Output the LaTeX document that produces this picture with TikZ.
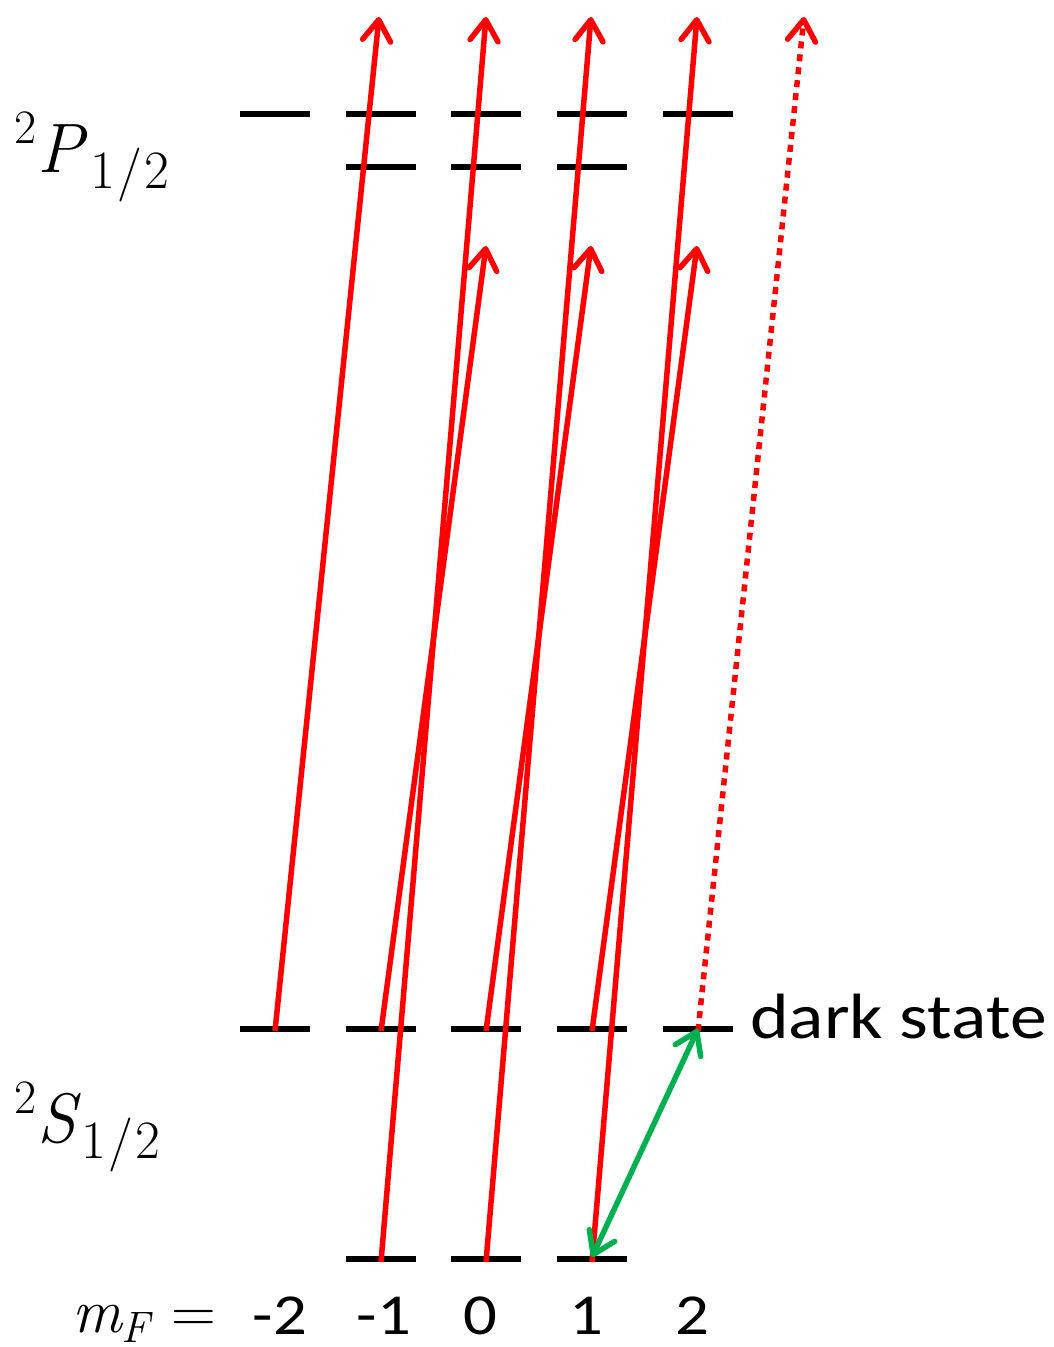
\documentclass[tikz,border=0pt]{standalone}
\usepackage{fontspec}
\newfontfamily\calib[FakeStretch=1.15]{Carlito}
\usetikzlibrary{arrows.meta}
\definecolor{exred}{RGB}{255,0,0}
\definecolor{pumpgreen}{RGB}{0,176,80}
\newcommand{\supsz}{\fontsize{48}{48}\selectfont}
\newcommand{\subsz}{\fontsize{54}{54}\selectfont}
\newcommand{\halfsub}{\raisebox{-16pt}{\subsz 1\kern2pt/\kern2pt2}}
\begin{document}
\begin{tikzpicture}[x=1pt,y=-1pt,
  lvl/.style={line width=5.5pt, black},
  tipbarb/.tip={Straight Barb[length=21pt,width=28pt,round]},
  exc/.style={line width=5.5pt, exred, -tipbarb},
  excdot/.style={line width=5.5pt, exred, dash pattern=on 7pt off 6pt, -tipbarb},
  pump/.style={line width=5.5pt, pumpgreen, tipbarb-tipbarb},
  mathlbl/.style={inner sep=0pt, anchor=base west, font=\fontsize{70}{70}\selectfont},
  numlbl/.style={inner sep=0pt, anchor=base, font=\calib\fontsize{58}{58}\selectfont},
]
\useasboundingbox (0,0) rectangle (1053,1347);

% column centres
\foreach \n/\x in {a/275,b/381,c/486,d/592,e/698}{
  \coordinate (P1\n) at (\x,114);
  \coordinate (P0\n) at (\x,167);
  \coordinate (S1\n) at (\x,1029);
  \coordinate (S0\n) at (\x,1259);
}
% levels
\foreach \n in {a,b,c,d,e}{
  \draw[lvl] ([xshift=-35pt]P1\n) -- ([xshift=35pt]P1\n);
  \draw[lvl] ([xshift=-35pt]S1\n) -- ([xshift=35pt]S1\n);
}
\foreach \n in {b,c,d}{
  \draw[lvl] ([xshift=-35pt]P0\n) -- ([xshift=35pt]P0\n);
  \draw[lvl] ([xshift=-35pt]S0\n) -- ([xshift=35pt]S0\n);
}

% arrow end points
\coordinate (Ta) at (379,17);
\coordinate (Tb) at (486,17);
\coordinate (Tc) at (591,17);
\coordinate (Td) at (697,17);
\coordinate (Te) at (804,17);
\coordinate (Mb) at (486,246);
\coordinate (Mc) at (591,246);
\coordinate (Md) at (697,246);

% excitation arrows
\draw[exc] ([yshift=-2pt]S1a) -- (Ta);
\draw[exc] ([yshift=-2pt]S1b) -- (Mb);
\draw[exc] ([yshift=-2pt]S1c) -- (Mc);
\draw[exc] ([yshift=-2pt]S1d) -- (Md);
\draw[exc] ([yshift=-3pt]S0b) -- (Tb);
\draw[exc] ([yshift=-3pt]S0c) -- (Tc);
\draw[exc] ([yshift=-3pt]S0d) -- (Td);
\draw[excdot] ([yshift=-2pt]S1e) -- (Te);

% optical pumping (green)
\draw[pump] ([yshift=2pt]S0d) -- (S1e);

% labels
\node[mathlbl] (Plbl) at (14,172) {\raisebox{29pt}{\supsz 2}\kern1pt{\itshape P}\kern7pt\halfsub};
\node[mathlbl] (Slbl) at (14,1142) {\raisebox{29pt}{\supsz 2}\kern1pt{\itshape S}\kern6pt\halfsub};
\node[mathlbl, font=\fontsize{62}{62}\selectfont] (mF) at (72,1332) {{\itshape m}\raisebox{-10pt}{\fontsize{44}{44}\selectfont\itshape F}\kern22pt=};
\node[numlbl] (n1) at (280,1334) {-2};
\node[numlbl] (n2) at (384,1334) {-1};
\node[numlbl] (n3) at (480,1334) {0};
\node[numlbl] (n4) at (586,1334) {1};
\node[numlbl] (n5) at (692,1334) {2};
\node[numlbl, anchor=base west, font=\calib\fontsize{64}{64}\selectfont] (dark) at (750,1038) {dark state};
\end{tikzpicture}
\end{document}
